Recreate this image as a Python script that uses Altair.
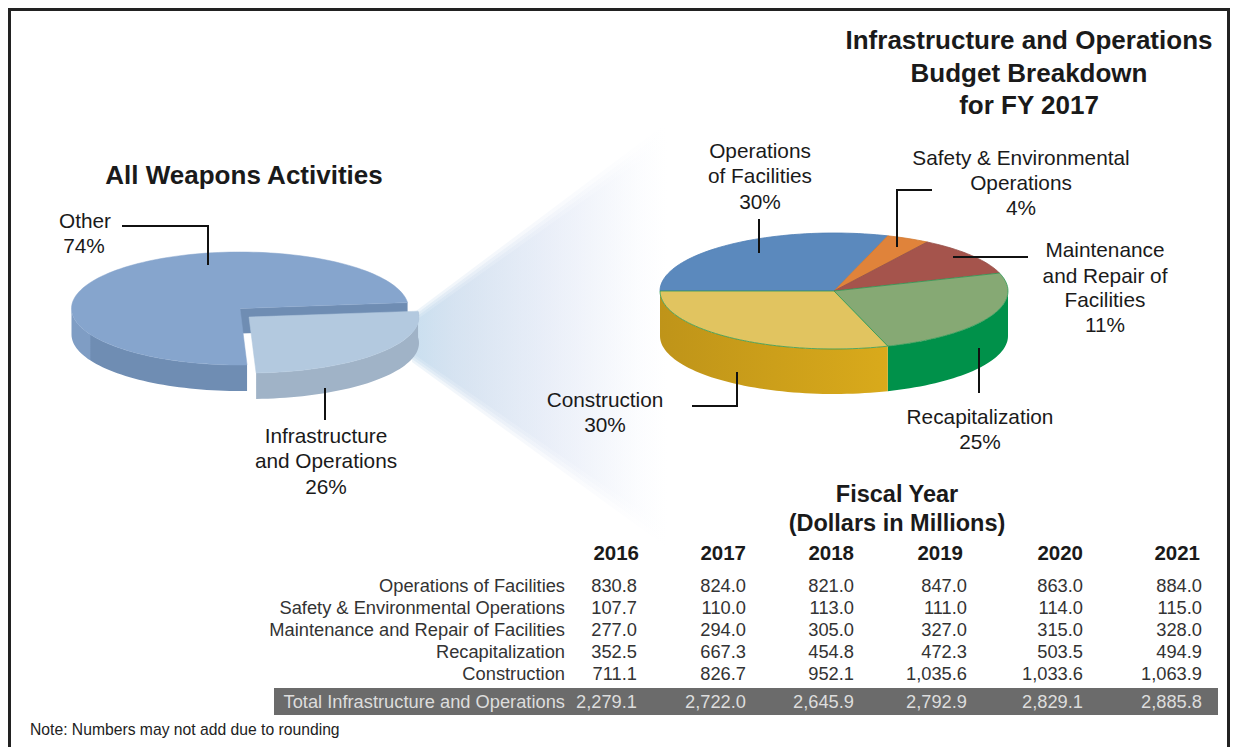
import math
import altair as alt
import pandas as pd

FONT = "Liberation Sans"
W, H = 1222, 739
OX, OY = 8, 8

# ---- data
left_labels = ["Other", "Infrastructure and Operations"]
left_share = [74, 26]
right_labels = ["Operations of Facilities", "Safety & Environmental Operations",
                "Maintenance and Repair of Facilities", "Recapitalization", "Construction"]
right_share = [30, 4, 11, 25, 30]
right_top = ["#5b89bd", "#e0833a", "#a5544c", "#86a974", "#e1c460"]

years = ["2016", "2017", "2018", "2019", "2020", "2021"]
rows = ["Operations of Facilities", "Safety & Environmental Operations",
        "Maintenance and Repair of Facilities", "Recapitalization", "Construction"]
ops = ["830.8", "824.0", "821.0", "847.0", "863.0", "884.0"]
safety = ["107.7", "110.0", "113.0", "111.0", "114.0", "115.0"]
maint = ["277.0", "294.0", "305.0", "327.0", "315.0", "328.0"]
recap = ["352.5", "667.3", "454.8", "472.3", "503.5", "494.9"]
constr = ["711.1", "826.7", "952.1", "1,035.6", "1,033.6", "1,063.9"]
total = ["2,279.1", "2,722.0", "2,645.9", "2,792.9", "2,829.1", "2,885.8"]
total_label = "Total Infrastructure and Operations"
note = "Note: Numbers may not add due to rounding"

col_right = [637, 746, 854, 967, 1083, 1202]
year_right = [639, 746, 854, 963, 1083, 1200]
row_base = [592, 614, 636, 658, 680]

proj = alt.Projection(type="identity", scale=1, translate=[-OX, -OY])


def shape(points, fill, stroke=None, sw=1.0, opacity=1.0):
    ring = [list(p) for p in points] + [list(points[0])]
    feat = {"type": "Feature", "properties": {},
            "geometry": {"type": "Polygon", "coordinates": [ring]}}
    kw = {"fill": fill, "opacity": opacity}
    if stroke:
        kw.update(stroke=stroke, strokeWidth=sw)
    else:
        kw.update(strokeWidth=0)
    return alt.Chart(alt.Data(values=[feat])).mark_geoshape(**kw).project(**proj.to_dict())


def arc(cx, cy, rx, ry, a0, a1, step=2.0):
    n = max(2, int(abs(a1 - a0) / step) + 1)
    out = []
    for i in range(n + 1):
        a = math.radians(a0 + (a1 - a0) * i / n)
        out.append((cx + rx * math.cos(a), cy + ry * math.sin(a)))
    return out


def sector(cx, cy, rx, ry, a0, a1):
    return [(cx, cy)] + arc(cx, cy, rx, ry, a0, a1)


def wall(cx, cy, rx, ry, d, a0, a1):
    up = arc(cx, cy, rx, ry, a0, a1)
    lo = [(x, y + d) for x, y in reversed(up)]
    return up + lo


def grad(stops, x1=0, x2=1, y1=0, y2=0):
    return alt.LinearGradient(
        gradient="linear", x1=x1, x2=x2, y1=y1, y2=y2,
        stops=[alt.GradientStop(offset=o, color=c) for o, c in stops])


layers = []

# ---- zoom fan between the pies (nested copies give the soft edge)
fan_stops = [(0, "#c6ddee"), (0.16, "#d3e1f0"), (0.55, "#e9eef8"), (0.88, "#fbfcfe"), (1, "#ffffff")]
for top0, top1, bot0, bot1, op in [(314, 122, 362, 548, 0.3), (317, 128, 359, 542, 0.4),
                                   (320, 134, 356, 536, 0.5), (323, 140, 353, 530, 0.7)]:
    layers.append(shape([(412, top0), (668, top1), (668, bot1), (412, bot0)], grad(fan_stops), opacity=op))

# ---- left pie
LCX, LCY, LRX, LRY, LD = 240, 308.5, 168.5, 56.5, 26
wedge_start = -6
wedge_end = wedge_start + left_share[1] * 3.6
main_end = wedge_start + 360
layers.append(shape(wall(LCX, LCY, LRX, LRY, LD, wedge_end, 180),
                    grad([(0, "#7f9dc4"), (0.105, "#7f9dc4"), (0.11, "#6f8db3"), (1, "#6f8db3")])))
layers.append(shape([(LCX, LCY), arc(LCX, LCY, LRX, LRY, wedge_start, wedge_start)[0],
                     (LCX + LRX * math.cos(math.radians(wedge_start)), LCY + 19),
                     (LCX, LCY + 25)], "#6f8db3"))
layers.append(shape(sector(LCX, LCY, LRX, LRY, wedge_end, main_end), "#86a5cd", stroke="#86a5cd", sw=0.5))
WCX, WCY, WRX, WRY, WD = 249, 317, 170, 56, 26
layers.append(shape(wall(WCX, WCY, WRX, WRY, WD, wedge_start, wedge_end), "#a0b3c7"))
layers.append(shape(sector(WCX, WCY, WRX, WRY, wedge_start, wedge_end), "#b3c9df", stroke="#b3c9df", sw=0.5))

# ---- right pie
RCX, RCY, RRX, RRY, RD = 834, 291, 174, 58, 45
angles = [180.0]
for s in right_share:
    angles.append(angles[-1] + s * 3.6)
layers.append(shape(wall(RCX, RCY, RRX, RRY, RD, 360, 360 + 72), "#00914a"))
layers.append(shape(wall(RCX, RCY, RRX, RRY, RD, 72, 180),
                    grad([(0, "#bf9419"), (1, "#d9aa1b")])))
edge = ["#4f7fb5", "#cf7a32", "#95504a", "#2f9a55", "#2f9a55"]
for i, s in enumerate(right_share):
    layers.append(shape(sector(RCX, RCY, RRX, RRY, angles[i], angles[i + 1]), right_top[i],
                        stroke=edge[i], sw=0.8))

# ---- total bar
layers.append(shape([(274, 688), (1218, 688), (1218, 715), (274, 715)], "#6b6b6b"))

xs = alt.Scale(domain=[OX, OX + W], range=[0, W])
ys = alt.Scale(domain=[OY, OY + H], range=[0, H])

# ---- frame and leader lines
frame = [(9.5, 760), (9.5, 9.5), (1228.5, 9.5), (1228.5, 760)]
frame_df = pd.DataFrame([{"i": i, "x": p[0], "y": p[1]} for i, p in enumerate(frame)])
layers.append(alt.Chart(frame_df).mark_line(color="#222222", strokeWidth=3, clip=True).encode(
    x=alt.X("x:Q", scale=xs, axis=None),
    y=alt.Y("y:Q", scale=ys, axis=None),
    order="i:Q"))

leaders = {
    "other": [(122, 226), (208, 226), (208, 265)],
    "infra": [(325, 388), (325, 420)],
    "ops": [(759, 219), (759, 253)],
    "safety": [(932, 190), (897, 190), (897, 247)],
    "maint": [(953, 257), (1028, 257)],
    "recap": [(979, 348), (979, 393)],
    "constr": [(692, 406), (737, 406), (737, 372)],
}
lead_df = pd.DataFrame([
    {"id": k, "i": i, "x": p[0], "y": p[1]} for k, v in leaders.items() for i, p in enumerate(v)])
layers.append(alt.Chart(lead_df).mark_line(color="#111111", strokeWidth=2).encode(
    x=alt.X("x:Q", scale=xs, axis=None),
    y=alt.Y("y:Q", scale=ys, axis=None),
    detail="id:N", order="i:Q"))

# ---- texts
T = []


def t(text, x, y, size=20.8, bold=False, align="center", color="#1a1a1a"):
    T.append(dict(text=text, x=x, y=y, size=size, w="bold" if bold else "normal", a=align, c=color))


for i, line in enumerate(["Infrastructure and Operations", "Budget Breakdown", "for FY 2017"]):
    t(line, 1029, 49 + i * 32.5, 26, True)
t("All Weapons Activities", 244, 184, 26, True)
t("Other", 85, 228); t("74%", 84, 253)
t("Infrastructure", 326, 443); t("and Operations", 326, 468); t("26%", 326, 494)
t("Operations", 760, 158); t("of Facilities", 760, 183); t("30%", 760, 209)
t("Safety & Environmental", 1021, 165); t("Operations", 1021, 190); t("4%", 1021, 215)
t("Maintenance", 1105, 257); t("and Repair of", 1105, 283); t("Facilities", 1105, 307); t("11%", 1105, 332)
t("Recapitalization", 980, 424); t("25%", 980, 449)
t("Construction", 605, 407); t("30%", 605, 432)
t("Fiscal Year", 897, 502, 23.5, True); t("(Dollars in Millions)", 897, 531, 23.5, True)
for y, xr in zip(years, year_right):
    t(y, xr, 560, 20.5, True, "right")
for r, vals, b in zip(rows, [ops, safety, maint, recap, constr], row_base):
    t(r, 565, b, 18.3, False, "right", "#333333")
    for v, xr in zip(vals, col_right):
        t(v, xr, b, 18.3, False, "right", "#333333")
t(total_label, 565, 708, 18.3, False, "right", "#dddddd")
for v, xr in zip(total, col_right):
    t(v, xr, 708, 18.3, False, "right", "#dddddd")
t(note, 30, 735, 15.7, False, "left", "#222222")

for (sz, w, a, c), g in pd.DataFrame(T).groupby(["size", "w", "a", "c"]):
    layers.append(alt.Chart(g).mark_text(
        font=FONT, fontSize=sz, fontWeight=w, align=a, baseline="alphabetic", color=c).encode(
        x=alt.X("x:Q", scale=xs, axis=None),
        y=alt.Y("y:Q", scale=ys, axis=None),
        text="text:N"))

chart = alt.layer(*layers).properties(width=W, height=H, padding=0, background="white").configure_view(
    strokeWidth=0)
chart.save("out.html", embed_options={"renderer": "svg", "actions": False})
